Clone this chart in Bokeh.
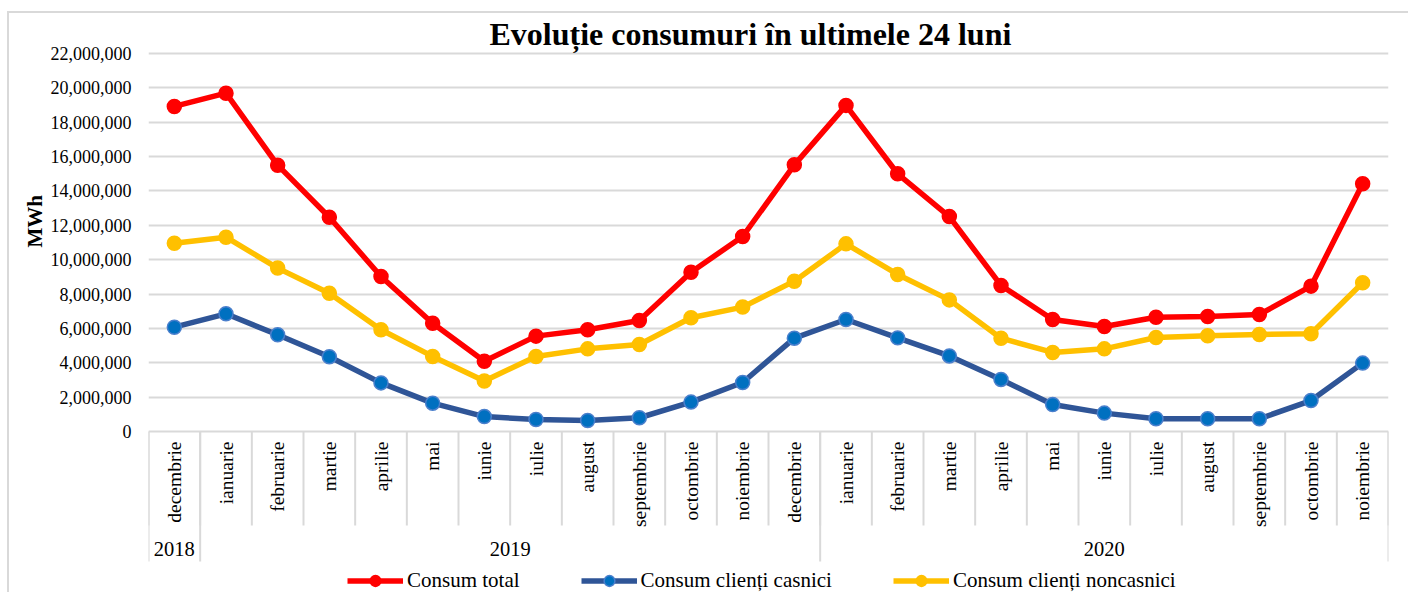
import math
from bokeh.plotting import figure
from bokeh.models import (FactorRange, Range1d, FixedTicker, NumeralTickFormatter,
                          Legend, LegendItem, Title, ColumnDataSource)
from bokeh.core.properties import value
from bokeh.embed import file_html
from bokeh.resources import INLINE

# ---------------- data ----------------
years = ["2018"] + ["2019"] * 12 + ["2020"] * 11
months = ["decembrie", "ianuarie", "februarie", "martie", "aprilie", "mai", "iunie",
          "iulie", "august", "septembrie", "octombrie", "noiembrie", "decembrie",
          "ianuarie", "februarie", "martie", "aprilie", "mai", "iunie", "iulie",
          "august", "septembrie", "octombrie", "noiembrie"]
consum_total = [18920000, 19690000, 15500000, 12470000, 9020000, 6300000, 4090000,
                5550000, 5920000, 6460000, 9270000, 11350000, 15520000, 18980000,
                15000000, 12510000, 8500000, 6520000, 6110000, 6650000, 6690000,
                6810000, 8460000, 14420000]
consum_casnici = [6070000, 6850000, 5630000, 4350000, 2830000, 1650000, 870000,
                  700000, 640000, 800000, 1710000, 2850000, 5430000, 6520000,
                  5450000, 4400000, 3030000, 1570000, 1070000, 740000, 740000,
                  740000, 1800000, 3980000]
consum_noncasnici = [10960000, 11310000, 9510000, 8050000, 5920000, 4370000, 2940000,
                     4370000, 4810000, 5060000, 6620000, 7240000, 8750000, 10920000,
                     9140000, 7660000, 5430000, 4600000, 4810000, 5470000, 5570000,
                     5650000, 5690000, 8660000]
y_ticks = list(range(0, 22_000_001, 2_000_000))
title_text = "Evoluție consumuri în ultimele 24 luni"
y_label = "MWh"
series_names = ["Consum total", "Consum clienți casnici", "Consum clienți noncasnici"]

# ---------------- layout constants ----------------
FONT = "Liberation Serif"
W, H = 1408, 592
FRAME_LEFT, FRAME_RIGHT = 148, 1388
FRAME_TOP = 47
ZERO_PX = 431
PX_PER_UNIT = 378 / 22e6
GRID = "#d9d9d9"


def y_at(px):
    return (ZERO_PX - px) / PX_PER_UNIT


factors = list(zip(years, months))
x_range = FactorRange(*factors, factor_padding=0, group_padding=0,
                      subgroup_padding=0, range_padding=0)

p = figure(width=W, height=H, x_range=x_range, y_range=Range1d(y_at(H), y_at(FRAME_TOP)),
           output_backend="svg", toolbar_location=None, x_axis_location=None,
           min_border_left=FRAME_LEFT, min_border_right=W - FRAME_RIGHT,
           min_border_top=FRAME_TOP, min_border_bottom=0,
           background_fill_color="white", border_fill_alpha=0,
           outline_line_color=None)
# chart-area border (top and left edges) drawn behind the transparent canvas border
p.styles = {
    "background": (f"linear-gradient({GRID},{GRID}) 7px 11px / 100% 2px no-repeat, "
                   f"linear-gradient({GRID},{GRID}) 7px 11px / 2px 100% no-repeat, white"),
}

# title
p.title.text = title_text
p.title.align = "left"
p.title.offset = 341
p.title.standoff = -8
p.title.text_font = FONT
p.title.text_font_size = "32px"
p.title.text_font_style = "bold"
p.title.text_color = "black"

# y axis
yax = p.yaxis[0]
yax.ticker = FixedTicker(ticks=y_ticks)
yax.formatter = NumeralTickFormatter(format="0,0")
yax.axis_line_color = None
yax.major_tick_line_color = None
yax.minor_tick_line_color = None
yax.major_label_standoff = 11
yax.major_label_text_font = FONT
yax.major_label_text_font_size = "18px"
yax.major_label_text_color = "black"

p.add_layout(Title(text=y_label, align="left", offset=H - 247, standoff=1,
                   text_font=FONT, text_font_size="21px", text_font_style="bold",
                   text_color="black"), "left")

p.xgrid.visible = False
p.ygrid.grid_line_color = GRID
p.ygrid.grid_line_width = 2

# category table (separators + labels)
n = len(months)
bounds = list(range(n + 1))
group_bounds = [0] + [i for i in range(1, n) if years[i] != years[i - 1]] + [n]
p.segment(x0=bounds, x1=bounds, y0=[0] * len(bounds), y1=[y_at(525)] * len(bounds),
          line_color=GRID, line_width=2)
p.segment(x0=group_bounds, x1=group_bounds, y0=[0] * len(group_bounds),
          y1=[y_at(561)] * len(group_bounds), line_color=GRID, line_width=2)

p.text(x=factors, y=[y_at(441)] * n, text=months, angle=math.pi / 2,
       text_align="right", text_baseline="middle", text_font=value(FONT),
       text_font_size="19.5px", text_color="black")

uniq_years = list(dict.fromkeys(years))
p.text(x=uniq_years, y=[y_at(548)] * len(uniq_years), text=uniq_years,
       text_align="center", text_baseline="middle", text_font=value(FONT),
       text_font_size="20.5px", text_color="black")

# series
src = ColumnDataSource(dict(x=factors, total=consum_total, casnici=consum_casnici,
                            noncasnici=consum_noncasnici))
styles = [
    ("total", "#FF0000", "#FF0000", "#FF0000"),
    ("casnici", "#2F5597", "#0070C0", "#4A7FCC"),
    ("noncasnici", "#FFC000", "#FFC000", "#FFC000"),
]
items = []
for (col, lc, fc, mc), name in zip(styles, series_names):
    ln = p.line("x", col, source=src, line_color=lc, line_width=5.5)
    sc = p.scatter("x", col, source=src, size=14, fill_color=fc, line_color=mc,
                   line_width=1.5)
    items.append(LegendItem(label=name, renderers=[ln, sc]))

legend = Legend(items=items, orientation="horizontal", location=(199, -2),
                glyph_width=56, glyph_height=27, label_height=27, label_standoff=4,
                spacing=61, padding=0, margin=0, border_line_color=None,
                background_fill_alpha=0, label_text_font=FONT,
                label_text_font_size="21px", label_text_color="black")
p.add_layout(legend)

open("out.html", "w").write(file_html(p, INLINE))
